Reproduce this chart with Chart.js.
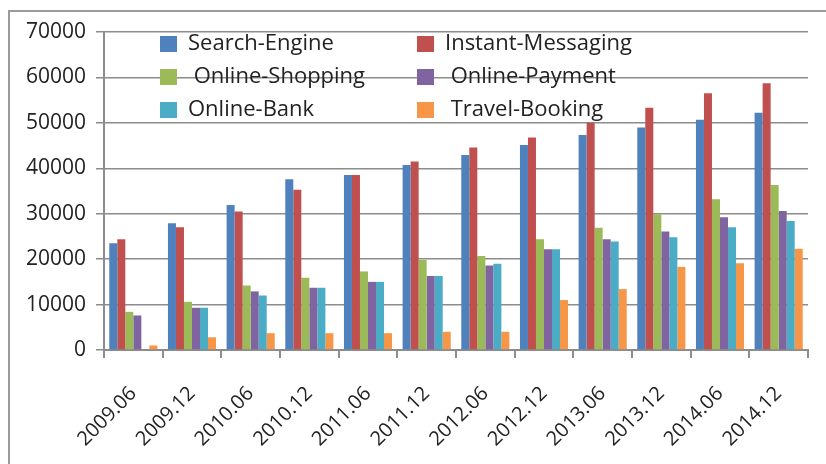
<!DOCTYPE html>
<html>
<head>
<meta charset="utf-8">
<script src="https://cdn.jsdelivr.net/npm/chart.js@4.4.0/dist/chart.umd.min.js"></script>
<style>
  html, body { margin: 0; padding: 0; background: #fff; overflow: hidden; }
  #frame { position: absolute; left: 8px; top: 10px; width: 840px; height: 480px; border: 2px solid #9a9a9a; }
  #wrap { position: absolute; left: 0; top: 0; width: 826px; height: 464px; }
</style>
</head>
<body>
<div id="frame"></div>
<div id="wrap"><canvas id="grafico" width="826" height="464"></canvas></div>
<script>
  const periods = ["2009.06", "2009.12", "2010.06", "2010.12", "2011.06", "2011.12",
                   "2012.06", "2012.12", "2013.06", "2013.12", "2014.06", "2014.12"];
  const yTicks = [0, 10000, 20000, 30000, 40000, 50000, 60000, 70000];

  const searchEngine     = [23500, 27900, 31900, 37600, 38500, 40700, 42900, 45100, 47300, 49000, 50700, 52200];
  const instantMessaging = [24400, 27000, 30500, 35300, 38500, 41500, 44600, 46800, 50000, 53300, 56500, 58700];
  const onlineShopping   = [8400, 10600, 14200, 15900, 17300, 19800, 20700, 24400, 26900, 29900, 33200, 36300];
  const onlinePayment    = [7600, 9300, 12900, 13700, 15000, 16300, 18600, 22200, 24400, 26100, 29200, 30600];
  const onlineBank       = [0, 9300, 12000, 13700, 15000, 16300, 19000, 22200, 23900, 24800, 27000, 28400];
  const travelBooking    = [1000, 2800, 3700, 3700, 3700, 4000, 4000, 11000, 13400, 18300, 19100, 22300];

  const seriesNames = ["Search-Engine", "Instant-Messaging", " Online-Shopping", " Online-Payment", "Online-Bank", " Travel-Booking"];
  const colores = ["#4F81BD", "#C0504D", "#9BBB59", "#8064A2", "#4BACC6", "#F79646"];
  const valores = [searchEngine, instantMessaging, onlineShopping, onlinePayment, onlineBank, travelBooking];

  // legend drawn inside the plot, two columns like the original
  const leyenda = {
    id: "leyenda",
    afterDatasetsDraw(chart) {
      const ctx = chart.ctx;
      const colX = [160, 417];
      const rowY = [44, 77, 110];
      ctx.save();
      ctx.font = "22px 'Open Sans'";
      ctx.textBaseline = "middle";
      chart.data.datasets.forEach((ds, i) => {
        const x = colX[i % 2];
        const y = rowY[Math.floor(i / 2)];
        ctx.fillStyle = ds.backgroundColor;
        ctx.fillRect(x, y - 8, 17, 16);
        ctx.fillStyle = "#222";
        ctx.fillText(ds.label, x + 28, y);
      });
      ctx.restore();
    }
  };

  const ctx = document.getElementById("grafico").getContext("2d");
  new Chart(ctx, {
    type: "bar",
    data: {
      labels: periods,
      datasets: valores.map((v, i) => ({
        label: seriesNames[i],
        data: v,
        backgroundColor: colores[i],
        borderWidth: 0,
        categoryPercentage: 0.82,
        barPercentage: 1.0
      }))
    },
    options: {
      responsive: false,
      animation: false,
      layout: { padding: { top: 32, right: 18, left: 0, bottom: 0 } },
      plugins: {
        legend: { display: false },
        tooltip: { enabled: false }
      },
      scales: {
        x: {
          offset: true,
          afterFit(scale) { scale.height = 114; },
          grid: { offset: true, drawOnChartArea: false, drawTicks: true, tickLength: 8, color: "#8c8c8c", lineWidth: 2 },
          border: { display: true, color: "#8c8c8c", width: 2 },
          ticks: { minRotation: 45, maxRotation: 45, padding: 24, color: "#222", font: { family: "'Open Sans'", size: 20 } }
        },
        y: {
          min: 0,
          max: 70000,
          afterFit(scale) { scale.width = 104; },
          afterBuildTicks(scale) { scale.ticks = yTicks.map(v => ({ value: v })); },
          grid: { color: "#8c8c8c", lineWidth: 1.5, tickLength: 8 },
          border: { display: true, color: "#8c8c8c", width: 2 },
          ticks: { padding: 10, color: "#222", font: { family: "'Open Sans'", size: 21 }, callback: (v) => String(v) }
        }
      }
    },
    plugins: [leyenda]
  });
</script>
</body>
</html>
